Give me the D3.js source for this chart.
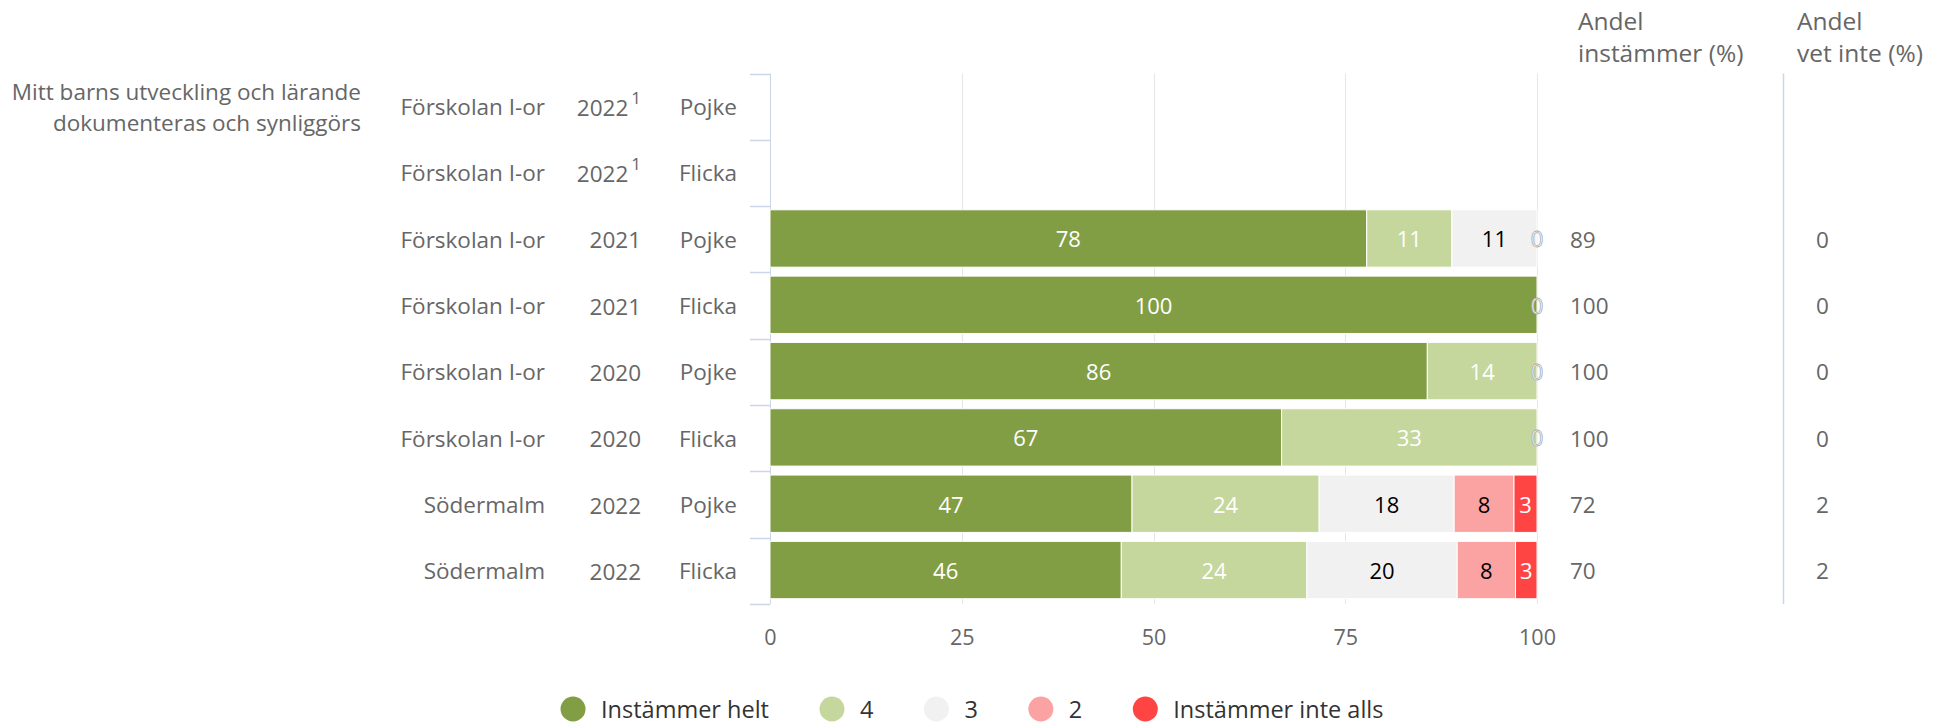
<!DOCTYPE html>
<html><head><meta charset="utf-8">
<script src="https://cdn.jsdelivr.net/npm/d3@7"></script>
<style>body{margin:0;background:#fff;} svg{display:block;font-family:"Open Sans",sans-serif;}</style>
</head><body><svg id="c" width="1944" height="726"></svg>
<script>
// ---------- data ----------
const rowUnits   = ["Förskolan I-or","Förskolan I-or","Förskolan I-or","Förskolan I-or","Förskolan I-or","Förskolan I-or","Södermalm","Södermalm"];
const rowYears   = ["2022","2022","2021","2021","2020","2020","2022","2022"];
const rowNotes   = ["1","1","","","","","",""];
const rowGenders = ["Pojke","Flicka","Pojke","Flicka","Pojke","Flicka","Pojke","Flicka"];
const seriesNames  = ["Instämmer helt","4","3","2","Instämmer inte alls"];
const seriesColors = ["#829e45","#c5d79d","#f1f1f1","#fba3a2","#ff4444"];
const labelColors  = ["#ffffff","#ffffff","#000000","#000000","#ffffff"];
const valHelt      = [null,null,77.8,100,85.7,66.7,47.2,45.8];
const val4         = [null,null,11.1,null,14.3,33.3,24.4,24.2];
const val3         = [null,null,11.1,null,null,null,17.6,19.6];
const val2         = [null,null,0,0,0,0,7.8,7.6];
const valInteAlls  = [null,null,null,null,null,null,3.0,2.8];
const andelInstammer = [null,null,89,100,100,100,72,70];
const andelVetInte   = [null,null,0,0,0,0,2,2];
const xTicks = [0,25,50,75,100];
const questionLines = ["Mitt barns utveckling och lärande","dokumenteras och synliggörs"];
const headerInstammer = ["Andel","instämmer (%)"];
const headerVetInte = ["Andel","vet inte (%)"];

const seriesValues = [valHelt,val4,val3,val2,valInteAlls];

// ---------- layout ----------
const svg = d3.select("#c");
const plotTop = 73.5, plotBottom = 604;
const x = d3.scaleLinear().domain([0,100]).range([770,1537]);
const y = d3.scaleBand().domain(d3.range(rowUnits.length)).range([plotTop,plotBottom]).padding(0);
const bw = y.bandwidth();
const barH = bw*0.865;

// gridlines
svg.append("g").selectAll("line").data(xTicks.filter(t=>t>0)).join("line")
  .attr("x1",d=>Math.round(x(d))+0.5).attr("x2",d=>Math.round(x(d))+0.5)
  .attr("y1",plotTop).attr("y2",plotBottom)
  .attr("stroke","#e6e6e6").attr("stroke-width",1);

// left axis line + separators
svg.append("line").attr("x1",770.5).attr("x2",770.5).attr("y1",plotTop).attr("y2",plotBottom)
  .attr("stroke","#ccd6eb");
const seps = d3.range(rowUnits.length+1).map(i=>plotTop+i*bw);
svg.append("g").selectAll("line").data(seps).join("line")
  .attr("x1",750).attr("x2",770).attr("y1",d=>Math.round(d)+0.5).attr("y2",d=>Math.round(d)+0.5)
  .attr("stroke","#ccd6eb").attr("stroke-width",1.5);

// right separator line
svg.append("line").attr("x1",1783.5).attr("x2",1783.5).attr("y1",plotTop).attr("y2",plotBottom)
  .attr("stroke","#ccd6eb").attr("stroke-width",1.5);

// bars
const gBars = svg.append("g");
const gLab = svg.append("g");
rowUnits.forEach((u,i)=>{
  let cum = 0;
  const cy = y(i)+bw/2 - 0.8;
  seriesValues.forEach((arr,s)=>{
    const v = arr[i];
    if (v===null) return;
    const x0 = x(cum), x1 = x(cum+v);
    if (v>0){
      gBars.append("rect").attr("x",x0).attr("y",cy-barH/2).attr("width",x1-x0).attr("height",barH)
        .attr("fill",seriesColors[s]).attr("stroke","#ffffff").attr("stroke-width",1);
      gLab.append("text").attr("x",(x0+x1)/2).attr("y",cy).attr("text-anchor","middle")
        .attr("dominant-baseline","central").attr("font-size",22).attr("fill",labelColors[s])
        .text(d3.format(".0f")(v));
    } else {
      gLab.append("text").attr("x",x0).attr("y",cy).attr("text-anchor","middle")
        .attr("dominant-baseline","central").attr("font-size",22).attr("fill","#ffffff")
        .attr("stroke","#aaa").attr("stroke-width",0.8).text("0");
    }
    cum += v;
  });
});

// x axis labels
const xAxis = svg.append("g").attr("transform",`translate(0,${plotBottom})`)
  .call(d3.axisBottom(x).tickValues(xTicks).tickSize(0).tickPadding(26));
xAxis.select(".domain").remove();
xAxis.selectAll("text").attr("font-size",21.5).attr("fill","#666").attr("font-family","Open Sans");

// row labels
const gRows = svg.append("g").attr("font-size",22.5).attr("fill","#666");
rowUnits.forEach((u,i)=>{
  const cy = y(i)+bw/2;
  gRows.append("text").attr("x",545).attr("y",cy).attr("text-anchor","end").attr("dominant-baseline","central").text(u);
  const t = gRows.append("text").attr("x",641).attr("y",cy).attr("text-anchor","end").attr("dominant-baseline","central");
  t.append("tspan").text(rowYears[i]);
  if (rowNotes[i]) t.append("tspan").attr("dy",-10).attr("dx",3).attr("font-size",17).text(rowNotes[i]);
  gRows.append("text").attr("x",737).attr("y",cy).attr("text-anchor","end").attr("dominant-baseline","central").text(rowGenders[i]);
});

// question
const cy0 = y(0)+bw/2;
questionLines.forEach((l,k)=>{
  svg.append("text").attr("x",361).attr("y",cy0-15.5+31*k).attr("text-anchor","end")
    .attr("dominant-baseline","central").attr("font-size",22.5).attr("fill","#666").text(l);
});

// right columns
[headerInstammer,headerVetInte].forEach((h,c)=>{
  h.forEach((l,k)=>{
    svg.append("text").attr("x",c===0?1578:1797).attr("y",30+32*k).attr("font-size",24.5)
      .attr("fill","#666").text(l);
  });
});
rowUnits.forEach((u,i)=>{
  const cy = y(i)+bw/2;
  if (andelInstammer[i]!==null)
    svg.append("text").attr("x",1570).attr("y",cy).attr("dominant-baseline","central")
      .attr("font-size",22.5).attr("fill","#666").text(andelInstammer[i]);
  if (andelVetInte[i]!==null)
    svg.append("text").attr("x",1816).attr("y",cy).attr("dominant-baseline","central")
      .attr("font-size",22.5).attr("fill","#666").text(andelVetInte[i]);
});

// legend
const gLeg = svg.append("g");
const items = [];
seriesNames.forEach((n,s)=>{
  const g = gLeg.append("g");
  g.append("circle").attr("cx",0).attr("cy",0).attr("r",12.5).attr("fill",seriesColors[s]);
  const t = g.append("text").attr("x",28).attr("y",0).attr("dominant-baseline","central")
    .attr("font-size",23.5).attr("fill","#333").text(n);
  const w = t.node().getComputedTextLength();
  items.push({g,w});
});
let pos = 0;
items.forEach((it,k)=>{
  it.g.attr("transform",`translate(${pos},0)`);
  pos += 28 + it.w + 63;
});
const total = pos - 63 + 12.5;
const startX = 972 - total/2 + 12.5;
gLeg.attr("transform",`translate(${startX},709)`);
</script></body></html>
